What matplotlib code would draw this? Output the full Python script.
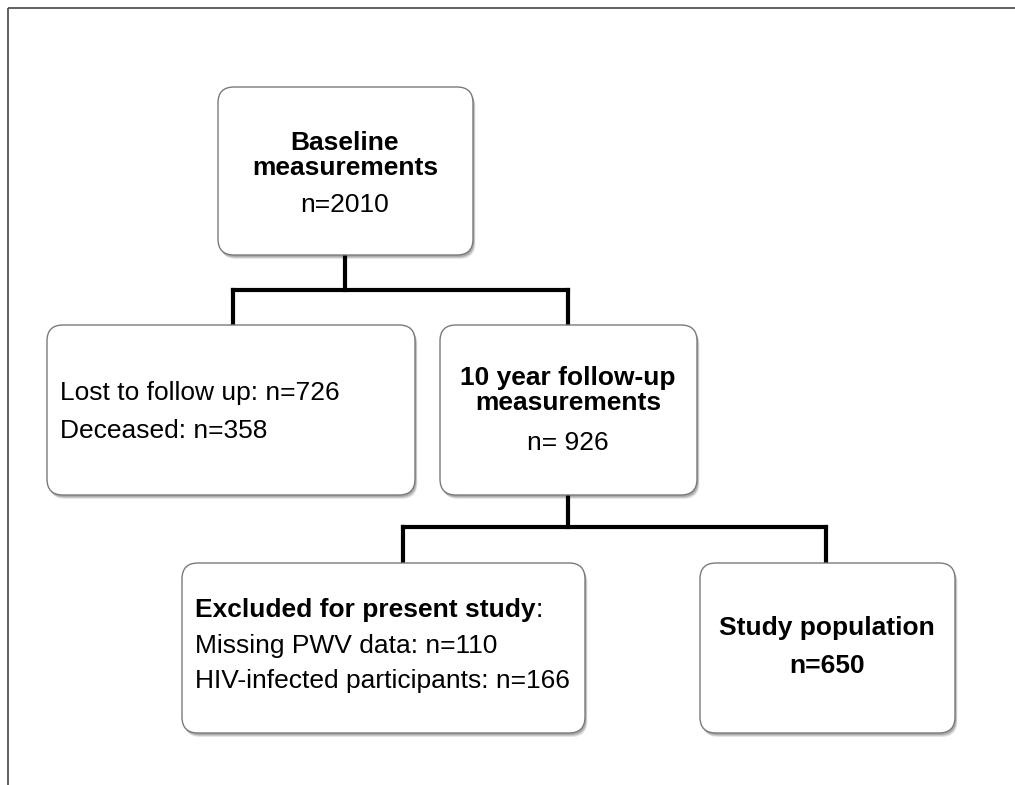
import matplotlib
matplotlib.use('Agg')
import matplotlib.pyplot as plt
from matplotlib.patches import FancyBboxPatch

plt.rcParams['font.family'] = ['Liberation Sans', 'DejaVu Sans']

# Числа участников по этапам
baseline_n = 2010
lost_n = 726
deceased_n = 358
followup_n = 926
missing_pwv_n = 110
hiv_n = 166
study_n = 650

# Блоки схемы: (x, y, ширина, высота) в пикселях
boxes = {
    'baseline': (218, 87, 255, 168),
    'lost': (47, 325, 368, 170),
    'followup': (440, 325, 257, 170),
    'excluded': (182, 563, 403, 170),
    'study': (700, 563, 255, 170),
}

fig = plt.figure(figsize=(10.15, 7.85), dpi=100)
ax = fig.add_axes([0, 0, 1, 1])
ax.set_xlim(0, 1015)
ax.set_ylim(785, 0)
ax.axis('off')

# Рамка сверху и слева
ax.plot([8.5, 1015], [7.5, 7.5], color='#454545', lw=1.2, solid_capstyle='butt')
ax.plot([8.5, 8.5], [7.5, 785], color='#454545', lw=1.2, solid_capstyle='butt')

def draw_box(x, y, w, h):
    # мягкая тень
    for i, a in enumerate([0.10, 0.12, 0.15]):
        off = 4 - i
        sh = FancyBboxPatch((x + off * 0.6, y + off), w, h,
                            boxstyle='round,pad=0,rounding_size=16',
                            fc='#000000', ec='none', alpha=a, zorder=1)
        ax.add_patch(sh)
    p = FancyBboxPatch((x, y), w, h, boxstyle='round,pad=0,rounding_size=16',
                       fc='white', ec='#7a7a7a', lw=1.0, zorder=2)
    ax.add_patch(p)

for b in boxes.values():
    draw_box(*b)

# Соединительные линии
lw_conn = 3.0
ax.plot([345, 345], [255, 290], color='black', lw=lw_conn, zorder=0)
ax.plot([233, 568], [290, 290], color='black', lw=lw_conn, zorder=0, solid_capstyle='projecting')
ax.plot([233, 233], [290, 325], color='black', lw=lw_conn, zorder=0)
ax.plot([568, 568], [290, 325], color='black', lw=lw_conn, zorder=0)
ax.plot([568, 568], [495, 527], color='black', lw=lw_conn, zorder=0)
ax.plot([403, 826], [527, 527], color='black', lw=lw_conn, zorder=0, solid_capstyle='projecting')
ax.plot([403, 403], [527, 563], color='black', lw=lw_conn, zorder=0)
ax.plot([826, 826], [527, 563], color='black', lw=lw_conn, zorder=0)

fs = 19
kw = dict(fontsize=fs, va='baseline', zorder=3)

# Исходные измерения
ax.text(345, 150, 'Baseline', ha='center', fontweight='bold', **kw)
ax.text(345, 175, 'measurements', ha='center', fontweight='bold', **kw)
ax.text(345, 212, f'n={baseline_n}', ha='center', **kw)

# Выбывшие
ax.text(60, 400, f'Lost to follow up: n={lost_n}', ha='left', **kw)
ax.text(60, 438, f'Deceased: n={deceased_n}', ha='left', **kw)

# Повторные измерения
ax.text(568, 385, '10 year follow-up', ha='center', fontweight='bold', **kw)
ax.text(568, 410, 'measurements', ha='center', fontweight='bold', **kw)
ax.text(568, 450, f'n= {followup_n}', ha='center', **kw)

# Исключённые
t = ax.text(195, 617, 'Excluded for present study', ha='left', fontweight='bold', **kw)
fig.canvas.draw()
bb = t.get_window_extent().transformed(ax.transData.inverted())
ax.text(bb.x1, 617, ':', ha='left', **kw)
ax.text(195, 653, f'Missing PWV data: n={missing_pwv_n}', ha='left', **kw)
ax.text(195, 688, f'HIV-infected participants: n={hiv_n}', ha='left', **kw)

# Итоговая выборка
ax.text(827, 635, 'Study population', ha='center', fontweight='bold', **kw)
ax.text(827, 673, f'n={study_n}', ha='center', fontweight='bold', **kw)

fig.savefig('out.png', dpi=100)
